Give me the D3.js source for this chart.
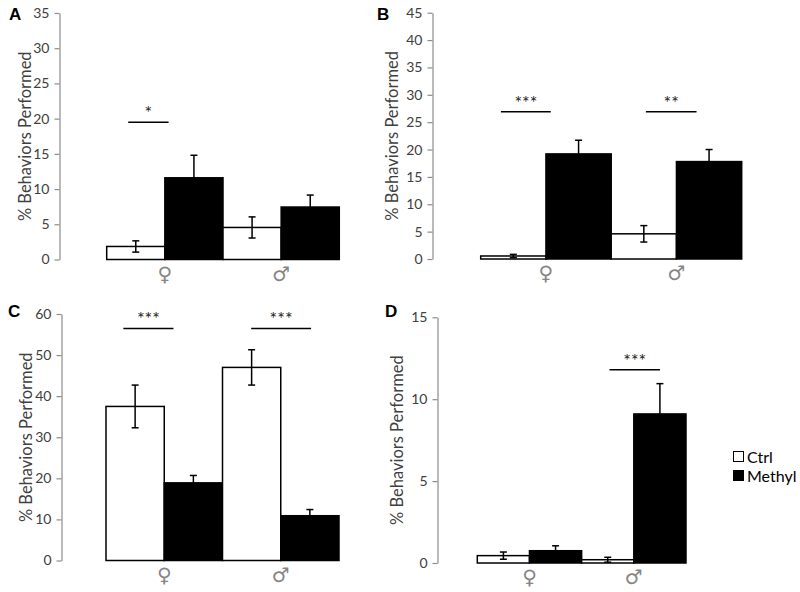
<!DOCTYPE html>
<html><head><meta charset="utf-8">
<script src="https://cdn.jsdelivr.net/npm/d3@7"></script>
<style>
html,body{margin:0;padding:0;background:#fff;}
svg{display:block;}
</style></head>
<body>
<svg id="chart" width="800" height="592"></svg>
<script>
// ---------------- DATA ----------------
const categories = ["♀", "♂"];
const series = ["Ctrl", "Methyl"];
const panelLetters = ["A", "B", "C", "D"];
const yMaxes = [35, 45, 60, 15];
const yTickSteps = [5, 5, 10, 5];

const ctrlA = [1.85, 4.55],  methylA = [11.6, 7.45];
const ctrlErrA = [0.8, 1.5], methylErrA = [3.2, 1.7];
const ctrlB = [0.55, 4.6],   methylB = [19.2, 17.8];
const ctrlErrB = [0.3, 1.5], methylErrB = [2.5, 2.2];
const ctrlC = [37.5, 47.0],  methylC = [18.9, 10.9];
const ctrlErrC = [5.2, 4.3], methylErrC = [1.8, 1.5];
const ctrlD = [0.45, 0.2],   methylD = [0.75, 9.1];
const ctrlErrD = [0.22, 0.15], methylErrD = [0.3, 1.85];

const sigA = [{group: "♀", label: "*", y: 19.5}];
const sigB = [{group: "♀", label: "***", y: 26.9}, {group: "♂", label: "**", y: 26.9}];
const sigC = [{group: "♀", label: "***", y: 56.5}, {group: "♂", label: "***", y: 56.5}];
const sigD = [{group: "♂", label: "***", y: 11.8}];

const yTitle = "% Behaviors Performed";

// ---------------- LAYOUT ----------------
const layouts = [
  {axisX: 59.5, x0: 106.7, x1: 339.3, yB: 259.5, yT: 13,  lx: 9,   ly: 20,  tx: 25,
   sigSpan: {"♀": [0.185, 0.532]}},
  {axisX: 432.5, x0: 480.7, x1: 741.7, yB: 259, yT: 12.7, lx: 377, ly: 20, tx: 392,
   sigSpan: {"♀": [0.155, 0.537], "♂": [0.266, 0.654]}},
  {axisX: 61.5, x0: 106, x1: 339, yB: 560.5, yT: 314, lx: 8, ly: 317, tx: 26,
   sigSpan: {"♀": [0.149, 0.579], "♂": [0.246, 0.76]}},
  {axisX: 437.5, x0: 477.3, x1: 686, yB: 563, yT: 317.3, lx: 385, ly: 317, tx: 397,
   sigSpan: {"♂": [0.267, 0.75]}}
];

const panels = [
  {ctrl: ctrlA, methyl: methylA, ctrlErr: ctrlErrA, methylErr: methylErrA, sig: sigA},
  {ctrl: ctrlB, methyl: methylB, ctrlErr: ctrlErrB, methylErr: methylErrB, sig: sigB},
  {ctrl: ctrlC, methyl: methylC, ctrlErr: ctrlErrC, methylErr: methylErrC, sig: sigC},
  {ctrl: ctrlD, methyl: methylD, ctrlErr: ctrlErrD, methylErr: methylErrD, sig: sigD}
];

const FONT = "Lato, 'Open Sans', sans-serif";
const fills = {Ctrl: "#ffffff", Methyl: "#000000"};
const svg = d3.select("#chart");

panels.forEach((p, i) => {
  const L = layouts[i];
  const g = svg.append("g");
  const y = d3.scaleLinear().domain([0, yMaxes[i]]).range([L.yB, L.yT]);
  const x = d3.scaleBand().domain(categories).range([L.x0, L.x1]).paddingInner(0).paddingOuter(0);
  const xs = d3.scaleBand().domain(series).range([0, x.bandwidth()]).padding(0);

  // y axis
  const ax = g.append("g").attr("transform", `translate(${L.axisX},0)`)
    .call(d3.axisLeft(y).tickValues(d3.range(0, yMaxes[i] + 0.001, yTickSteps[i]))
      .tickSize(5).tickSizeOuter(0).tickPadding(5));
  ax.select(".domain").attr("stroke", "#8c8c8c").attr("stroke-width", 1.2);
  ax.selectAll(".tick line").attr("stroke", "#8c8c8c").attr("stroke-width", 1.2);
  ax.selectAll(".tick text").attr("fill", "#404040").style("font-family", FONT).style("font-size", "14px");

  // y title
  g.append("text")
    .attr("transform", `translate(${L.tx},${(L.yB + L.yT) / 2}) rotate(-90)`)
    .attr("text-anchor", "middle").attr("dominant-baseline", "central")
    .style("font-family", FONT).style("font-size", "16.5px").attr("fill", "#404040")
    .text(yTitle);

  // panel letter
  g.append("text").attr("x", L.lx).attr("y", L.ly)
    .style("font-family", "'Liberation Sans', Arial, sans-serif").style("font-weight", "bold")
    .style("font-size", "17px").attr("fill", "#000").text(panelLetters[i]);

  // bars
  const rows = [];
  categories.forEach((c, ci) => {
    rows.push({cat: c, s: "Ctrl", v: p.ctrl[ci], e: p.ctrlErr[ci]});
    rows.push({cat: c, s: "Methyl", v: p.methyl[ci], e: p.methylErr[ci]});
  });
  g.selectAll("rect.bar").data(rows).join("rect").attr("class", "bar")
    .attr("x", d => x(d.cat) + xs(d.s))
    .attr("width", xs.bandwidth())
    .attr("y", d => y(d.v))
    .attr("height", d => y(0) - y(d.v))
    .attr("fill", d => fills[d.s])
    .attr("stroke", "#000").attr("stroke-width", 1.5);

  // error bars
  const cap = 3.5;
  rows.forEach(d => {
    const cx = x(d.cat) + xs(d.s) + xs.bandwidth() / 2;
    const yt = y(d.v + d.e), yb = y(Math.max(0, d.v - d.e));
    const eg = g.append("g").attr("stroke", "#000").attr("stroke-width", 1.5);
    eg.append("line").attr("x1", cx).attr("x2", cx).attr("y1", yt).attr("y2", yb);
    eg.append("line").attr("x1", cx - cap).attr("x2", cx + cap).attr("y1", yt).attr("y2", yt);
    eg.append("line").attr("x1", cx - cap).attr("x2", cx + cap).attr("y1", yb).attr("y2", yb);
  });

  // category labels
  g.selectAll("text.cat").data(categories).join("text").attr("class", "cat")
    .attr("x", c => x(c) + x.bandwidth() / 2)
    .attr("y", L.yB + 21)
    .attr("text-anchor", "middle")
    .style("font-family", "'DejaVu Sans', sans-serif").style("font-size", "20px")
    .attr("fill", "#858585").text(c => c);

  // significance
  p.sig.forEach(s => {
    const span = L.sigSpan[s.group];
    const xa = x(s.group) + x.bandwidth() * span[0];
    const xb = x(s.group) + x.bandwidth() * span[1];
    const yy = y(s.y);
    g.append("line").attr("x1", xa).attr("x2", xb).attr("y1", yy).attr("y2", yy)
      .attr("stroke", "#000").attr("stroke-width", 1.5);
    g.append("text").attr("x", (xa + xb) / 2).attr("y", yy - 3)
      .attr("text-anchor", "middle").style("font-family", FONT).style("font-size", "18px")
      .attr("fill", "#222").text(s.label);
  });
});

// legend
const lg = svg.append("g").attr("transform", "translate(733,451)");
series.forEach((s, i) => {
  const row = lg.append("g").attr("transform", `translate(0,${i * 19})`);
  row.append("rect").attr("x", 0.5).attr("y", 0.5).attr("width", 10).attr("height", 10)
    .attr("fill", fills[s]).attr("stroke", "#000").attr("stroke-width", 1);
  row.append("text").attr("x", 14).attr("y", 5.5).attr("dominant-baseline", "central")
    .style("font-family", FONT).style("font-size", "16px").attr("fill", "#000").text(s);
});
</script>
</body></html>
